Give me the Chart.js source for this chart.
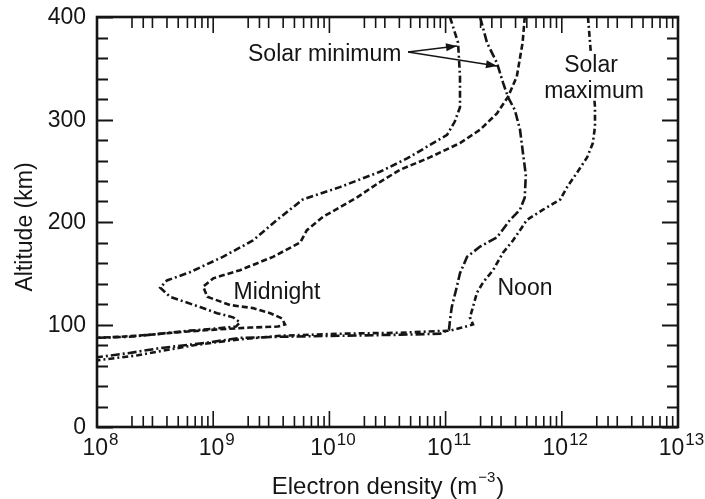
<!DOCTYPE html>
<html>
<head>
<meta charset="utf-8">
<script src="https://cdn.jsdelivr.net/npm/chart.js@4/dist/chart.umd.min.js"></script>
<style>
  html, body { margin: 0; padding: 0; background: #fff; }
  #wrap { width: 705px; height: 499px; }
</style>
</head>
<body>
<div id="wrap"><canvas id="chart" width="705" height="499"></canvas></div>
<script>
// Electron density (m^-3) vs altitude (km)
const midnightMinDensity = [1.09e11, 1.28e11, 1.33e11, 1.33e11, 1.2e11, 1.03e11, 7.3e10, 4.66e10, 2.72e10, 1.23e10, 5.9e9, 3.54e9, 2.2e9, 1.21e9, 6.3e8, 4.0e8, 3.5e8, 4.25e8, 7.7e8, 1.08e9, 1.48e9, 1.7e9, 1.57e9, 1.03e9, 6.3e8, 3.5e8, 1.9e8, 1e8];
const midnightMinAlt = [400, 375, 342, 312, 298, 285, 275, 262, 249, 234, 222, 202, 182, 166, 151, 143, 136, 127, 117, 111, 107, 102, 98, 96, 94, 91, 88, 87];

const midnightMaxDensity = [4.8e11, 4.6e11, 4.1e11, 3.44e11, 2.77e11, 1.98e11, 1.33e11, 7.3e10, 4.06e10, 2.72e10, 1.73e10, 8.8e9, 6.4e9, 5.6e9, 3.27e9, 1.7e9, 1.0e9, 8.2e8, 8.9e8, 1.4e9, 2.2e9, 3.1e9, 3.9e9, 4.15e9, 3.6e9, 2.07e9, 1.03e9, 5.7e8, 2.86e8, 1.58e8, 1e8];
const midnightMaxAlt = [400, 375, 342, 322, 306, 290, 277, 263, 251, 239, 224, 205, 192, 180, 166, 153, 145, 137, 127, 119, 116, 111, 106, 100, 98, 97, 95, 93, 90, 88, 87];

const noonMinDensity = [1.98e11, 2.27e11, 2.77e11, 3.12e11, 3.44e11, 3.95e11, 4.37e11, 4.6e11, 4.9e11, 4.8e11, 4.37e11, 3.58e11, 2.77e11, 1.98e11, 1.53e11, 1.33e11, 1.25e11, 1.13e11, 1.09e11, 1.07e11, 8.96e10, 4.06e10, 1.23e10, 3.76e9, 1.7e9, 8.5e8, 3.5e8, 1.85e8, 1e8];
const noonMinAlt = [400, 375, 355, 336, 322, 309, 290, 270, 246, 224, 212, 202, 185, 176, 166, 150, 137, 117, 104, 95, 91, 90, 89, 88, 87, 82, 77, 72, 68];

const noonMaxDensity = [1.68e12, 1.75e12, 1.93e12, 1.93e12, 1.85e12, 1.65e12, 1.35e12, 1.11e12, 9.7e11, 6.9e11, 5.0e11, 4.37e11, 3.8e11, 3.12e11, 2.56e11, 2.1e11, 1.86e11, 1.72e11, 1.62e11, 1.72e11, 1.38e11, 1.09e11, 4.06e10, 1.23e10, 3.76e9, 1.54e9, 7.0e8, 3.5e8, 2.25e8, 1e8];
const noonMaxAlt = [400, 375, 312, 293, 277, 263, 248, 234, 222, 212, 202, 192, 182, 170, 153, 141, 131, 117, 107, 100, 97, 94, 92, 91, 89, 85, 80, 74, 70, 65];

// Axis ticks
const altTicks = [0, 100, 200, 300, 400];
const decadeExponents = [8, 9, 10, 11, 12, 13];
const minorMultiples = [2, 2.5, 3, 4, 5, 6, 7, 8, 9];

const FONT = '"Liberation Sans", Arial, Helvetica, sans-serif';
const INK = '#151515';

function toPoints(xs, ys) {
    return xs.map((x, i) => ({ x: x, y: ys[i] }));
}

function curve(label, xs, ys, dash) {
    return {
        label: label,
        data: toPoints(xs, ys),
        showLine: true,
        borderColor: INK,
        borderWidth: 2.6,
        borderDash: dash,
        pointRadius: 0,
        fill: false,
        tension: 0
    };
}

// Draw text with a superscript part, centred on cx
function drawSup(ctx, base, sup, cx, baseline, size, supSize) {
    ctx.font = size + 'px ' + FONT;
    const wb = ctx.measureText(base).width;
    ctx.font = supSize + 'px ' + FONT;
    const ws = ctx.measureText(sup).width;
    const x0 = cx - (wb + ws) / 2;
    ctx.textAlign = 'left';
    ctx.textBaseline = 'alphabetic';
    ctx.font = size + 'px ' + FONT;
    ctx.fillText(base, x0, baseline);
    ctx.font = supSize + 'px ' + FONT;
    ctx.fillText(sup, x0 + wb + 1, baseline - size * 0.42);
}

function arrow(ctx, x1, y1, x2, y2) {
    ctx.beginPath();
    ctx.moveTo(x1, y1);
    ctx.lineTo(x2, y2);
    ctx.stroke();
    const a = Math.atan2(y2 - y1, x2 - x1);
    const len = 11, w = 4;
    ctx.beginPath();
    ctx.moveTo(x2, y2);
    ctx.lineTo(x2 - len * Math.cos(a) + w * Math.sin(a), y2 - len * Math.sin(a) - w * Math.cos(a));
    ctx.lineTo(x2 - len * Math.cos(a) - w * Math.sin(a), y2 - len * Math.sin(a) + w * Math.cos(a));
    ctx.closePath();
    ctx.fill();
}

const framePlugin = {
    id: 'frame',
    afterDatasetsDraw(chart) {
        const ctx = chart.ctx;
        const area = chart.chartArea;
        const xs = chart.scales.x;
        const ys = chart.scales.y;
        ctx.save();
        ctx.strokeStyle = INK;

        // White box behind the "Solar maximum" label
        ctx.fillStyle = '#fff';
        ctx.fillRect(545, 52, 100, 47);
        ctx.fillStyle = INK;

        // Inward ticks, y axis (both sides)
        ctx.lineWidth = 2;
        for (let v = 0; v <= 400; v += 20) {
            const py = Math.round(ys.getPixelForValue(v)) + 0.5;
            const len = v % 100 === 0 ? 16 : 11;
            ctx.beginPath();
            ctx.moveTo(area.left, py); ctx.lineTo(area.left + len, py);
            ctx.moveTo(area.right, py); ctx.lineTo(area.right - len, py);
            ctx.stroke();
        }
        // Inward ticks, x axis (top and bottom)
        ctx.lineWidth = 1.6;
        decadeExponents.forEach(e => {
            if (e < 13) {
                minorMultiples.forEach(m => {
                    const px = xs.getPixelForValue(m * Math.pow(10, e));
                    ctx.beginPath();
                    ctx.moveTo(px, area.bottom); ctx.lineTo(px, area.bottom - 11);
                    ctx.moveTo(px, area.top); ctx.lineTo(px, area.top + 11);
                    ctx.stroke();
                });
            }
            if (e > 8 && e < 13) {
                const px = xs.getPixelForValue(Math.pow(10, e));
                ctx.beginPath();
                ctx.moveTo(px, area.bottom); ctx.lineTo(px, area.bottom - 16);
                ctx.moveTo(px, area.top); ctx.lineTo(px, area.top + 16);
                ctx.stroke();
            }
        });

        // Frame
        ctx.lineWidth = 2.6;
        ctx.strokeRect(area.left, area.top, area.right - area.left, area.bottom - area.top);

        // Y tick labels
        ctx.font = '23px ' + FONT;
        ctx.textAlign = 'right';
        ctx.textBaseline = 'middle';
        altTicks.forEach(v => {
            ctx.fillText(String(v), area.left - 11, ys.getPixelForValue(v) + 1);
        });

        // X tick labels 10^n
        decadeExponents.forEach(e => {
            const px = xs.getPixelForValue(Math.pow(10, e));
            drawSup(ctx, '10', String(e), px + 3, 455, 23, 17);
        });

        // Axis titles
        ctx.save();
        ctx.translate(32, 227);
        ctx.rotate(-Math.PI / 2);
        ctx.font = '23px ' + FONT;
        ctx.textAlign = 'center';
        ctx.textBaseline = 'alphabetic';
        ctx.fillText('Altitude (km)', 0, 0);
        ctx.restore();

        ctx.font = '24px ' + FONT;
        const t1 = 'Electron density (m';
        const w1 = ctx.measureText(t1).width;
        ctx.font = '15px ' + FONT;
        const w2 = ctx.measureText('\u22123').width;
        ctx.font = '24px ' + FONT;
        const w3 = ctx.measureText(')').width;
        const tx = 388 - (w1 + w2 + w3 + 2) / 2;
        ctx.textAlign = 'left';
        ctx.textBaseline = 'alphabetic';
        ctx.fillText(t1, tx, 494);
        ctx.font = '15px ' + FONT;
        ctx.fillText('\u22123', tx + w1 + 1, 482);
        ctx.font = '24px ' + FONT;
        ctx.fillText(')', tx + w1 + w2 + 2, 494);

        // Annotations
        ctx.font = '23px ' + FONT;
        ctx.textBaseline = 'alphabetic';
        ctx.textAlign = 'left';
        ctx.fillText('Solar minimum', 248, 61);
        ctx.textAlign = 'center';
        ctx.fillText('Solar', 591, 72);
        ctx.fillText('maximum', 594, 98);
        ctx.fillText('Midnight', 277, 299);
        ctx.fillText('Noon', 525, 295);

        ctx.lineWidth = 1.3;
        arrow(ctx, 408, 52, 457, 46);
        arrow(ctx, 408, 52, 497, 66);

        ctx.restore();
    }
};

new Chart(document.getElementById('chart'), {
    type: 'scatter',
    data: {
        datasets: [
            curve('Midnight, solar minimum', midnightMinDensity, midnightMinAlt, [7, 3, 2, 3]),
            curve('Midnight, solar maximum', midnightMaxDensity, midnightMaxAlt, [6, 3]),
            curve('Noon, solar minimum', noonMinDensity, noonMinAlt, [9, 3, 2, 3]),
            curve('Noon, solar maximum', noonMaxDensity, noonMaxAlt, [6, 3, 2, 3])
        ]
    },
    options: {
        responsive: false,
        animation: false,
        layout: { padding: { left: 97, right: 27, top: 17, bottom: 72 } },
        plugins: {
            legend: { display: false },
            tooltip: { enabled: false }
        },
        scales: {
            x: { type: 'logarithmic', min: 1e8, max: 1e13, display: false },
            y: { type: 'linear', min: 0, max: 400, display: false }
        }
    },
    plugins: [framePlugin]
});
</script>
</body>
</html>
